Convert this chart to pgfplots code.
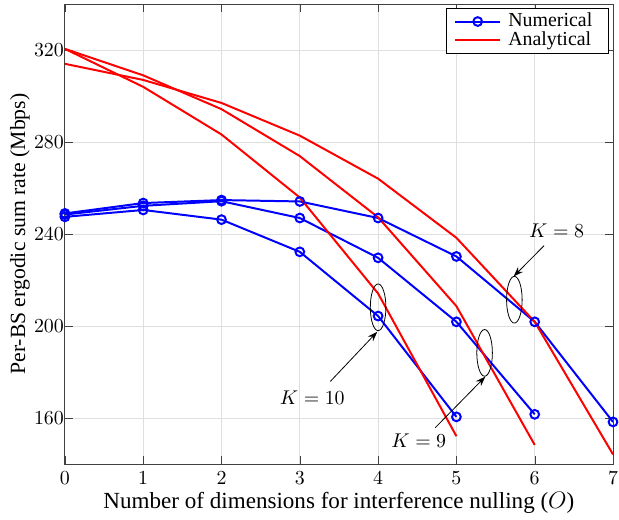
\documentclass[border=0pt]{standalone}
\usepackage{fontspec}
\setmainfont{Liberation Serif}
\usepackage{pgfplots}
\pgfplotsset{compat=1.18}
\usetikzlibrary{arrows.meta}

\begin{document}
\begin{tikzpicture}
\begin{axis}[
    name=ax,
    scale only axis,
    width=274.5bp, height=230.5bp,
    xmin=0, xmax=7, ymin=140, ymax=340,
    xtick={0,1,...,7}, ytick={160,200,...,320},
    grid=major,
    major grid style={draw=gray!25, line width=0.4pt},
    axis line style={draw=black!75},
    tick style={draw=black!75},
    tick align=inside,
    yticklabel style={xshift=3bp},
    xlabel={Number of dimensions for interference nulling ($O$)},
    ylabel={Per-BS ergodic sum rate (Mbps)},
    xlabel style={font=\fontsize{11.6}{14}\selectfont,
        at={(axis description cs:0.5,-0.0954)}, anchor=base},
    ylabel style={font=\fontsize{10.9}{13}\selectfont,
        at={(axis description cs:-0.051,0.5)}, anchor=south},
    legend style={at={(0.992,0.992)}, anchor=north east, draw=black,
        line width=0.5pt, inner xsep=4bp, inner ysep=0.5pt, row sep=-3pt,
        column sep=1.5bp, cells={anchor=west}},
    legend image code/.code={
        \draw[mark repeat=2, mark phase=2]
        plot coordinates {(0cm,0cm) (0.4cm,0cm) (0.8cm,0cm)};}
]
% numerical, K = 8
\addplot[blue, line width=1pt, mark=o, mark size=2.2pt] coordinates {
    (0,249.0) (1,253.5) (2,254.8) (3,254.2) (4,247.0) (5,230.3) (6,201.9) (7,158.4)
};
\addlegendentry{Numerical}
% analytical, K = 8
\addplot[red, line width=1pt] coordinates {
    (0,314.0) (1,307.0) (2,297.0) (3,282.8) (4,264.1) (5,238.4) (6,201.9) (7,144.3)
};
\addlegendentry{Analytical\rule{2.5bp}{0pt}}
% numerical, K = 9 and K = 10
\addplot[blue, line width=1pt, mark=o, mark size=2.2pt, forget plot] coordinates {
    (0,248.5) (1,252.3) (2,254.3) (3,247.0) (4,229.7) (5,201.9) (6,161.7)
};
\addplot[blue, line width=1pt, mark=o, mark size=2.2pt, forget plot] coordinates {
    (0,247.5) (1,250.5) (2,246.3) (3,232.3) (4,204.4) (5,160.6)
};
% analytical, K = 9 and K = 10
\addplot[red, line width=1pt, forget plot] coordinates {
    (0,320.5) (1,309.0) (2,294.3) (3,273.9) (4,247.3) (5,208.7) (6,148.4)
};
\addplot[red, line width=1pt, forget plot] coordinates {
    (0,320.5) (1,304.0) (2,283.3) (3,255.9) (4,214.2) (5,152.2)
};

% annotations
\draw[black, line width=0.4pt] (axis cs:4,208.2) ellipse [x radius=3.9bp, y radius=11.7bp];
\draw[black, line width=0.4pt] (axis cs:5.36,188.4) ellipse [x radius=3.9bp, y radius=11.7bp];
\draw[black, line width=0.4pt] (axis cs:5.74,211.5) ellipse [x radius=3.9bp, y radius=11.7bp];
\draw[black, line width=0.4pt, -{Stealth[length=5pt, width=3.5pt]}]
    (axis cs:3.39,176.0) -- (axis cs:3.99,197.6);
\draw[black, line width=0.4pt, -{Stealth[length=5pt, width=3.5pt]}]
    (axis cs:4.73,155.9) -- (axis cs:5.37,178.1);
\draw[black, line width=0.4pt, -{Stealth[length=5pt, width=3.5pt]}]
    (axis cs:6.12,235.0) -- (axis cs:5.73,221.6);
\node at (axis cs:6.28,241.5) {$K=8$};
\node at (axis cs:4.52,150.1) {$K=9$};
\node at (axis cs:3.16,168.8) {$K=10$};
\end{axis}
\pgfresetboundingbox
\path[use as bounding box] ([xshift=-32.5bp, yshift=-27.5bp]ax.south west)
    rectangle ([xshift=3bp, yshift=2bp]ax.north east);
\end{tikzpicture}
\end{document}
